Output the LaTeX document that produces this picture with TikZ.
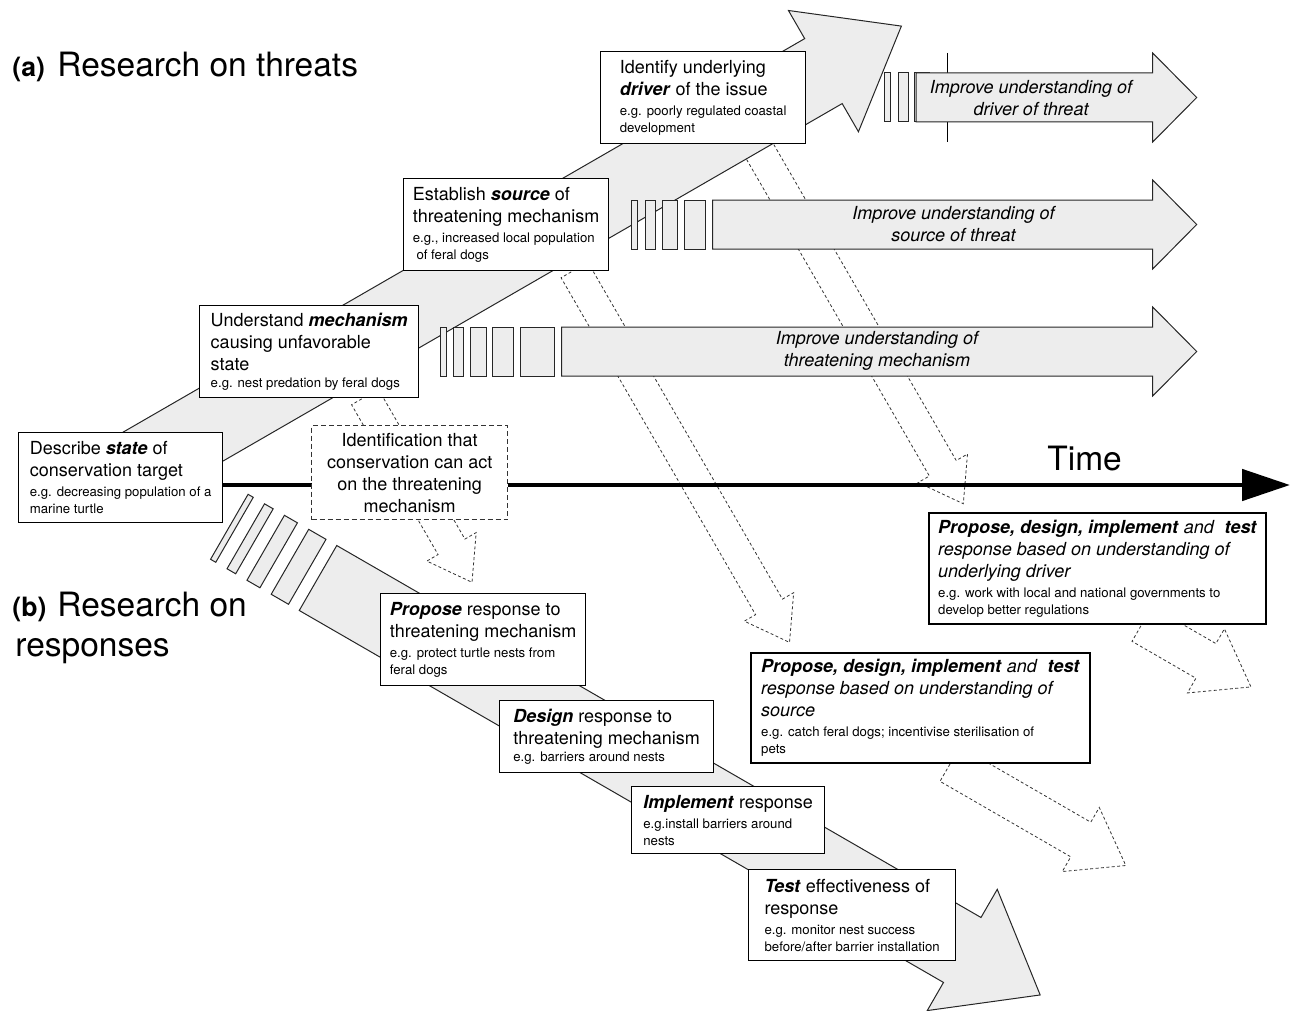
\documentclass[tikz,border=0pt]{standalone}
\usepackage{fontspec}
\setmainfont{TeX Gyre Heros}
\usetikzlibrary{arrows.meta}
\definecolor{bandgray}{gray}{0.93}
\newcommand{\eg}{\fontsize{6.6}{8.5}\selectfont}
\newcommand{\bi}[1]{\textbf{\textit{#1}}}

\begin{document}
\begin{tikzpicture}[
    x=0.5pt, y=-0.5pt,
    font=\fontsize{9}{11}\selectfont,
    band/.style={draw=black!85, line width=0.5pt, fill=bandgray},
    hollow/.style={draw=black!80, line width=0.4pt, dash pattern=on 1.5pt off 1.2pt},
    stepbox/.style={draw, line width=0.65pt, fill=white, anchor=north west,
        align=left, inner sep=0pt},
    resbox/.style={stepbox, line width=1.2pt},
    actbox/.style={stepbox, align=center, draw=black!80,
        dash pattern=on 2.5pt off 1.5pt},
    bandtext/.style={align=center, font=\fontsize{9}{11}\selectfont\itshape},
    title/.style={anchor=base west, inner sep=0pt,
        font=\fontsize{16.75}{16}\selectfont},
    pics/fatarrow/.style n args={4}{code={
        \draw[pic actions] (0,-#2/2) -- (#1-#4,-#2/2) -- (#1-#4,-#3/2) -- (#1,0)
            -- (#1-#4,#3/2) -- (#1-#4,#2/2) -- (0,#2/2) -- cycle;
    }}
        ]

    \path [use as bounding box] (0,0) rectangle (1290,1011);

    % hollow arrows: length, shaft, head width, head length
    \pic [hollow, rotate=-60] at (755,143)   {fatarrow={416.6}{31}{57}{41}};
    \pic [hollow, rotate=-60] at (574.5,270) {fatarrow={430}{31}{57}{41}};
    \pic [hollow, rotate=-60] at (365,397)   {fatarrow={214}{31}{57}{41}};
    \pic [hollow, rotate=-30] at (1142,624)  {fatarrow={125.8}{40}{74}{52}};
    \pic [hollow, rotate=-30] at (950,764)   {fatarrow={203}{40}{74}{52}};

    \draw [line width=0.4pt] (947,53) -- (947,142);

    % (a) research on threats
    \pic [band, rotate=30] at (110,483) {fatarrow={913.8}{75}{140}{90}};

    \foreach \a/\b in {884/890.7, 898.3/908.3, 914/929}
        \draw [band] (\a,73) rectangle (\b,122);
    \pic [band] at (916,97.5) {fatarrow={280.7}{49}{89}{44}};

    \foreach \a/\b in {631.7/637.7, 645.7/655.7, 662.7/677.3, 684.3/705}
        \draw [band] (\a,200) rectangle (\b,249);
    \pic [band] at (712.7,224.5) {fatarrow={484}{49}{89}{44}};

    \foreach \a/\b in {440/446, 453.3/463.3, 470.7/486, 492.7/513.3, 520/554}
        \draw [band] (\a,327) rectangle (\b,376);
    \pic [band] at (561.7,351.5) {fatarrow={635}{49}{89}{44}};

    \node [bandtext] (drvtext) at (1031,98) {Improve understanding of\\ driver of threat};
    \node [bandtext] (srctext) at (953.5,224.5) {Improve understanding of\\ source of threat};
    \node [bandtext] (mechtext) at (877,350.5) {Improve understanding of\\ threatening mechanism};

    % time axis
    \coordinate (timestart) at (200,485);
    \coordinate (timeend) at (1290,485);
    \draw [line width=2.4pt, -{Triangle[length=24pt, width=15.5pt]}] (timestart) -- (timeend);
    \node [title] (time) at (1047,470) {Time};

    % (b) research on responses
    \begin{scope}[shift={(318,578)}, rotate=-30]
        \foreach \a/\b in {-102.4/-96.4, -83.4/-73.4, -60.4/-45.4, -32.4/-12.4}
            \draw [band] (\a,-37.5) rectangle (\b,37.5);
    \end{scope}
    \pic [band, rotate=-30] at (318,578) {fatarrow={833.9}{75}{140}{90}};

    % boxes
    \node [stepbox, minimum width=102pt, minimum height=45pt] (state) at (18,432)
        {Describe \bi{state} of\\ conservation target\\[-1pt]
         \eg e.g. decreasing population of a\\[-2.5pt] \eg marine turtle};
    \node [stepbox, minimum width=109.5pt, minimum height=46pt] (mechanism) at (199,305)
        {Understand \bi{mechanism}\\ causing unfavorable\\ state\\[-2.5pt]
         \eg e.g. nest predation by feral dogs};
    \node [stepbox, minimum width=102.5pt, minimum height=46pt] (source) at (403,178)
        {Establish \bi{source} of\\ threatening mechanism\\[-1pt]
         \eg e.g., increased local population\\[-2.5pt] \eg \ of feral dogs};
    \node [stepbox, minimum width=102.5pt, minimum height=46pt] (driver) at (600,51)
        {Identify underlying\\ \bi{driver} of the issue\\[-1pt]
         \eg e.g. poorly regulated coastal\\[-2.5pt] \eg development};
    \node [actbox, minimum width=98pt, minimum height=47pt] (identify) at (311,425)
        {Identification that\\ conservation can act\\ on the threatening\\ mechanism};

    \node [stepbox, minimum width=102.5pt, minimum height=46pt] (propose) at (380,593)
        {\bi{Propose} response to\\ threatening mechanism\\[-1pt]
         \eg e.g. protect turtle nests from\\[-2.5pt] \eg feral dogs};
    \node [stepbox, minimum width=107pt, minimum height=36pt] (design) at (499,700)
        {\bi{Design} response to\\ threatening mechanism\\[-2.5pt]
         \eg e.g. barriers around nests};
    \node [stepbox, minimum width=96.5pt, minimum height=33.5pt] (implement) at (631,786)
        {\bi{Implement} response\\[-1pt]
         \eg e.g.install barriers around\\[-2.5pt] \eg nests};
    \node [stepbox, minimum width=103.5pt, minimum height=45.5pt] (test) at (748,869)
        {\bi{Test} effectiveness of\\ response\\[-1pt]
         \eg e.g. monitor nest success\\[-2.5pt] \eg before/after barrier installation};

    \node [resbox, minimum width=169.5pt, minimum height=55pt] (srcresp) at (750,652)
        {\bi{Propose, design, implement} \textit{and}~ \bi{test}\\
         \textit{response based on understanding of}\\ \textit{source}\\[-1pt]
         \eg e.g. catch feral dogs; incentivise sterilisation of\\[-2.5pt] \eg pets};
    \node [resbox, minimum width=168.5pt, minimum height=55.5pt] (drvresp) at (928,512)
        {\bi{Propose, design, implement} \textit{and}~ \bi{test}\\
         \textit{response based on understanding of}\\ \textit{underlying driver}\\[-1pt]
         \eg e.g. work with local and national governments to\\[-2.5pt]
         \eg develop better regulations};

    % titles
    \node [title, font=\fontsize{13.3}{16}\selectfont\bfseries] (taga) at (12,77) {(a)};
    \node [title] (titlea) at (57,77) {Research on threats};
    \node [title, font=\fontsize{13.3}{16}\selectfont\bfseries] (tagb) at (12,616) {(b)};
    \node [title] (titleb) at (57,616) {Research on};
    \node [title] (titleb2) at (15,656) {responses};

\end{tikzpicture}
\end{document}
